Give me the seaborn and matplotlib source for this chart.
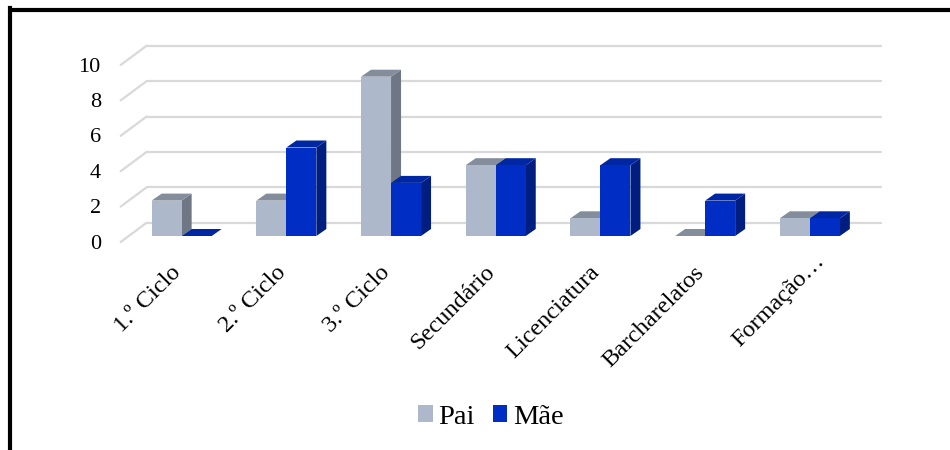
import pandas as pd
import matplotlib.pyplot as plt
import matplotlib.lines as mlines
from matplotlib.patches import Polygon
from matplotlib.transforms import ScaledTranslation
import seaborn as sns

#values
categories = ['1.º Ciclo', '2.º Ciclo', '3.º Ciclo', 'Secundário', 'Licenciatura', 'Barcharelatos', 'Formação…']
pai = [2, 2, 9, 4, 1, 0, 1]
mae = [0, 5, 3, 4, 4, 2, 1]
y_ticks = [0, 2, 4, 6, 8, 10]

#front, top and side colours of the fake 3d bars
palette = {'Pai': '#ADB9CA', 'Mãe': '#002DC4'}
top_colors = {'Pai': '#838D9B', 'Mãe': '#0027A3'}
side_colors = {'Pai': '#6F7784', 'Mãe': '#001E80'}

sns.set_style('white')
plt.rcParams['font.family'] = ['Liberation Serif', 'DejaVu Serif']
plt.rcParams['text.color'] = 'black'
plt.rcParams['xtick.color'] = 'black'
plt.rcParams['ytick.color'] = 'black'

data = pd.DataFrame({'Nivel': categories, 'Pai': pai, 'Mãe': mae})
data = data.melt(id_vars='Nivel', var_name='Progenitor', value_name='Total')

fig = plt.figure(figsize=(9.5, 4.5), dpi=100)
ax = fig.add_axes([129.3 / 950, 1 - 236 / 450, 732.9 / 950, 177 / 450])
sns.barplot(data=data, x='Nivel', y='Total', hue='Progenitor', palette=palette,
            width=0.573, gap=0, saturation=1, errorbar=None, ax=ax, zorder=3, linewidth=0)
ax.set_xlim(-0.5, 6.5)
ax.set_ylim(0, 10)

#one pixel in data units, the depth effect is built with these
px_x = 7 / 732.9
px_y = 10 / 177

#gridlines on the back wall and the diagonals on the side wall
for v in y_ticks:
    ax.plot([-0.5 + 17.35 * px_x, 6.5 + 18.3 * px_x], [v + 13.3 * px_y] * 2,
            color='#D9D9D9', lw=1.6, clip_on=False, zorder=1)
    ax.plot([-0.5 - 8.65 * px_x, -0.5 + 17.35 * px_x], [v - 6 * px_y, v + 13.3 * px_y],
            color='#D9D9D9', lw=1.6, clip_on=False, zorder=1)

#side and top faces from the bars seaborn has drawn
dx = 10 * px_x
dy = 7 * px_y
for name, container in zip(['Pai', 'Mãe'], ax.containers):
    z = 2.2 if name == 'Pai' else 2.6
    for bar in container:
        x0 = bar.get_x()
        x1 = x0 + bar.get_width()
        h = bar.get_height()
        side = [(x1, 0), (x1 + dx, dy), (x1 + dx, h + dy), (x1, h)]
        top = [(x0, h), (x0 + dx, h + dy), (x1 + dx, h + dy), (x1, h)]
        ax.add_patch(Polygon(side, color=side_colors[name], lw=0, clip_on=False, zorder=z))
        ax.add_patch(Polygon(top, color=top_colors[name], lw=0, clip_on=False, zorder=z + 0.1))

sns.despine(ax=ax, left=True, bottom=True)
ax.set_xlabel('')
ax.set_ylabel('')
ax.set_yticks(y_ticks)
ax.tick_params(axis='y', length=0, pad=20.5, labelsize=16)
ax.tick_params(axis='x', length=0, pad=24, labelsize=17.5)
for label in ax.get_yticklabels():
    label.set_transform(label.get_transform() + ScaledTranslation(0, -0.055, fig.dpi_scale_trans))
plt.setp(ax.get_xticklabels(), rotation=45, ha='right', va='center', rotation_mode='anchor')
#labels are moved a bit left, the cut off last one sits further up and right
for label in ax.get_xticklabels():
    if label.get_text().endswith('…'):
        shift = ScaledTranslation(0.12, 0.11, fig.dpi_scale_trans)
    else:
        shift = ScaledTranslation(-0.04, 0, fig.dpi_scale_trans)
    label.set_transform(label.get_transform() + shift)

sns.move_legend(ax, 'center', bbox_to_anchor=(491 / 950, 1 - 417 / 450),
                bbox_transform=fig.transFigure, ncol=2, frameon=False, title=None,
                fontsize=20.5, handlelength=0.5, handleheight=0.5,
                handletextpad=0.2, columnspacing=0.65)

#the picture's frame is only visible on the top and on the left
fig.add_artist(mlines.Line2D([10 / 950, 10 / 950], [0, 1 - 8 / 450], color='black', lw=3, solid_capstyle='projecting'))
fig.add_artist(mlines.Line2D([10 / 950, 1], [1 - 10 / 450, 1 - 10 / 450], color='black', lw=3))

plt.savefig('out.png', dpi=100)
